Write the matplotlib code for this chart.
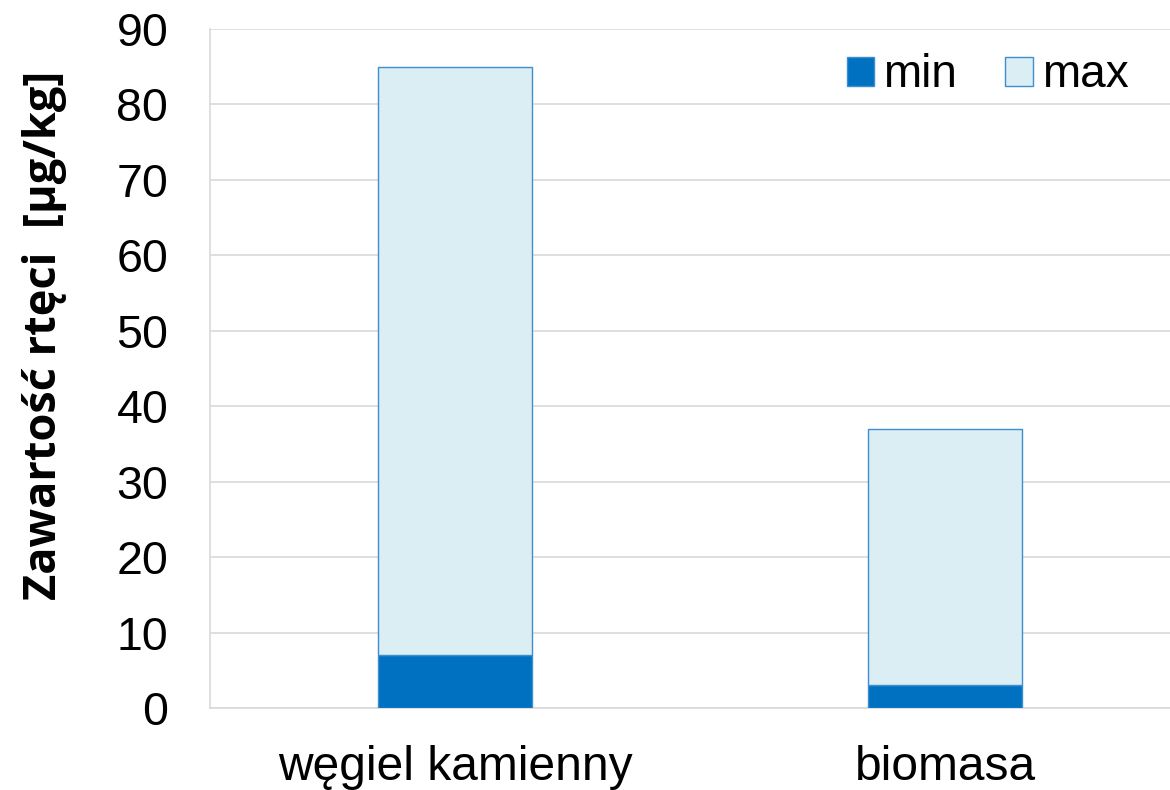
import matplotlib.pyplot as plt
import numpy as np

categories = ['węgiel kamienny', 'biomasa']
min_values = [7, 3]
max_values = [85, 37]

plt.rcParams['font.family'] = ['Liberation Sans', 'DejaVu Sans']

fig = plt.figure(figsize=(11.7, 7.9), dpi=100)
# axes right edge runs off the figure, like in the source picture
ax = fig.add_axes([210/1170, 82/790, 960/1170, 679/790])

x = np.arange(len(categories))
width = 0.314
dark = '#0070C0'
light = '#DAEEF3'

ax.bar(x, min_values, width, color=dark, edgecolor='#3d8fd0', linewidth=1, label='min', zorder=3)
ax.bar(x, np.array(max_values) - np.array(min_values), width, bottom=min_values,
       color=light, edgecolor='#3d8fd0', linewidth=1, label='max', zorder=3)

ax.set_xlim(-0.5, (1170 - 210) / 490 - 0.5)
ax.set_ylim(0, 90)
ax.set_yticks(np.arange(0, 91, 10))
ax.set_xticks(x)
ax.set_xticklabels(categories)
ax.tick_params(axis='y', length=0, labelsize=33.5, pad=30)
ax.tick_params(axis='x', length=0, labelsize=34.5, pad=27)

ax.grid(axis='y', color='#d9d9d9', linewidth=1.2, zorder=0)
for s in ['top', 'right']:
    ax.spines[s].set_visible(False)
ax.spines['left'].set_color('#d9d9d9')
ax.spines['bottom'].set_color('#d9d9d9')
ax.spines['left'].set_linewidth(1.2)
ax.spines['bottom'].set_linewidth(1.2)

fig.text(45/1170, 1 - 335/790, 'Zawartość rtęci  [µg/kg]', fontsize=32.5, fontweight='bold',
         family=['Open Sans', 'DejaVu Sans'], rotation=90, ha='center', va='center')

ax.legend(loc='upper right', bbox_to_anchor=(1.0, 1.025), ncol=2, frameon=False,
          fontsize=33, handlelength=0.6, handleheight=0.6, handletextpad=0.2,
          columnspacing=1.05)

fig.savefig('out.png', dpi=100)
